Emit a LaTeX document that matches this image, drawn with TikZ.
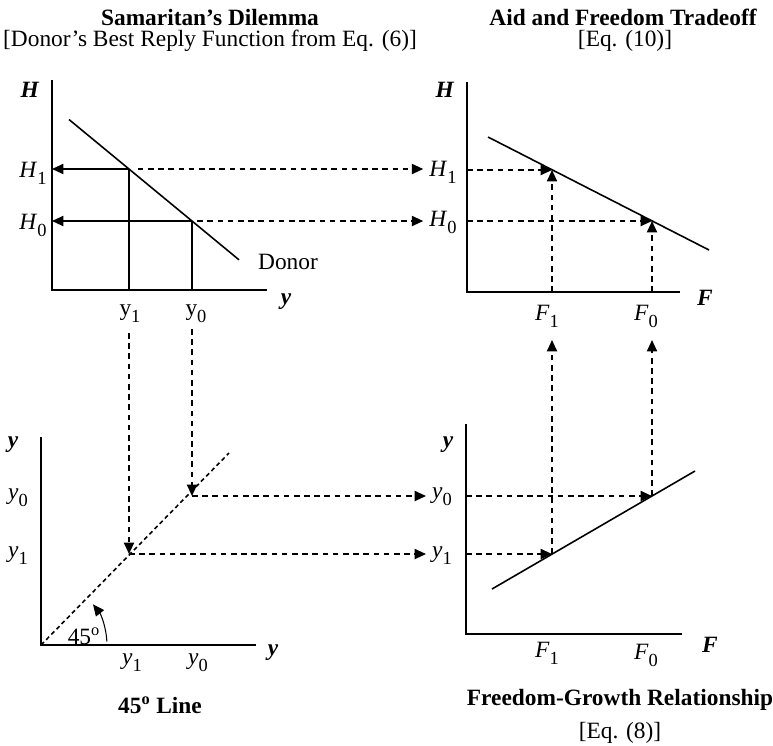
\documentclass[tikz,border=0pt]{standalone}
\usepackage{fontspec}
\setmainfont{Liberation Serif}
\usetikzlibrary{arrows.meta}
\usetikzlibrary{positioning}

\newcommand{\dn}[1]{\raisebox{-0.65ex}{\fontsize{10.5}{12}\selectfont #1}}
\newcommand{\axlab}[1]{\textbf{\textit{#1}}}

\begin{document}
\begin{tikzpicture}[x=0.02cm, y=-0.02cm,
  every node/.style={font=\fontsize{13.3}{15}\selectfont},
  title/.style={font=\fontsize{13.3}{15}\selectfont\bfseries},
  axis/.style={line width=1.6pt},
  curve/.style={line width=0.9pt},
  tip/.style={-{Triangle[length=6.5pt,width=5.8pt]}},
  solidarrow/.style={line width=0.9pt, tip},
  dasharrow/.style={line width=0.9pt, dash pattern=on 3.2pt off 2.6pt, tip},
  dashline/.style={line width=0.9pt, dash pattern=on 2.4pt off 1.8pt}]

\useasboundingbox (0,0) rectangle (773,745);

% Titulos
\node[title] (samTitle) at (210,17) {Samaritan's Dilemma};
\node (samSub) at (210,41) {[Donor's Best Reply Function from Eq. (6)]};
\node[title] (aidTitle) at (623,17) {Aid and Freedom Tradeoff};
\node (aidSub) at (625,41) {[Eq. (10)]};
\node[title] (lineTitle) at (160,705) {45\textsuperscript{o} Line};
\node[title] (fgTitle) at (620,700) {Freedom-Growth Relationship};
\node (fgSub) at (620,733) {[Eq. (8)]};

% Painel 1: Samaritan
\coordinate (tlO) at (52,290);
\coordinate (tlTop) at (52,80);
\coordinate (tlEnd) at (267,290);
\coordinate (tlA) at (129,169);
\coordinate (tlB) at (192,221);
\coordinate (donorS) at (69,119.5);
\coordinate (donorE) at (239,259.8);
\draw[axis] (tlTop) -- (tlO) -- (tlEnd);
\draw[curve] (donorS) -- (donorE);
\node (tlH) at (30,90) {\axlab{H}};
\node (tlH1) at (33,173) {\textit{H}\dn{1}};
\node (tlH0) at (33,225) {\textit{H}\dn{0}};
\node (donor) at (288,262) {Donor};
\node (tly) at (286,302) {\axlab{y}};
\node (tly1) at (130,314) {y\dn{1}};
\node (tly0) at (196,314) {y\dn{0}};
\draw[solidarrow] (tlA) -- (tlA -| tlO);
\draw[solidarrow] (tlB) -- (tlB -| tlO);
\draw[curve] (tlA) -- (tlA |- tlO);
\draw[curve] (tlB) -- (tlB |- tlO);

% Painel 2: Aid and Freedom
\coordinate (trO) at (467,292);
\coordinate (trTop) at (467,82);
\coordinate (trEnd) at (680,292);
\coordinate (trA) at (552,170);
\coordinate (trB) at (652,221);
\coordinate (aidS) at (488,137);
\coordinate (aidE) at (709,250);
\draw[axis] (trTop) -- (trO) -- (trEnd);
\draw[curve] (aidS) -- (aidE);
\node (trH) at (445,90) {\axlab{H}};
\node (trH1) at (443,172) {\textit{H}\dn{1}};
\node (trH0) at (443,222) {\textit{H}\dn{0}};
\node (trF) at (705,298) {\axlab{F}};
\node (trF1) at (547,316) {\textit{F}\dn{1}};
\node (trF0) at (646,316) {\textit{F}\dn{0}};
\draw[dasharrow] (trA -| trO) -- (trA);
\draw[dasharrow] (trB -| trO) -- (trB);
\draw[dasharrow] (trA |- trO) -- (trA);
\draw[dasharrow] (trB |- trO) -- (trB);

% Painel 3: 45 graus
\coordinate (blO) at (41,645);
\coordinate (blTop) at (41,437);
\coordinate (blEnd) at (256,645);
\coordinate (blA) at (129,554);
\coordinate (blB) at (192,496);
\coordinate (diagE) at (229,453);
\coordinate (ang0) at (106.9,641.5);
\draw[axis] (blTop) -- (blO) -- (blEnd);
\draw[dashline] (blO) -- (diagE);
\draw[solidarrow, line width=0.6pt] (ang0) arc[start angle=-3, end angle=-38, radius=66];
\node (ang) at (84,636) {45\textsuperscript{o}};
\node (bly) at (13,445) {\axlab{y}};
\node (bly0) at (18,498) {\textit{y}\dn{0}};
\node (bly1) at (18,556) {\textit{y}\dn{1}};
\node (blyx) at (273,653) {\axlab{y}};
\node (blx1) at (132,663) {\textit{y}\dn{1}};
\node (blx0) at (198,663) {\textit{y}\dn{0}};

% Painel 4: Freedom-Growth
\coordinate (brO) at (466,634);
\coordinate (brTop) at (466,424);
\coordinate (brEnd) at (682,634);
\coordinate (brA) at (552,554);
\coordinate (brB) at (652,496);
\coordinate (fgS) at (492,589);
\coordinate (fgE) at (695,471);
\draw[axis] (brTop) -- (brO) -- (brEnd);
\draw[curve] (fgS) -- (fgE);
\node (bry) at (448,445) {\axlab{y}};
\node (bry0) at (442,497) {\textit{y}\dn{0}};
\node (bry1) at (442,556) {\textit{y}\dn{1}};
\node (brF) at (710,645) {\axlab{F}};
\node (brF1) at (547,653) {\textit{F}\dn{1}};
\node (brF0) at (646,655) {\textit{F}\dn{0}};
\draw[dasharrow] (blA -| brO) -- (brA);
\draw[dasharrow] (blB -| brO) -- (brB);

% Ligacoes entre paineis
\coordinate (y1top) at (129,333);
\coordinate (y0top) at (192,329);
\coordinate (f1tip) at (552,340);
\coordinate (f0tip) at (652,340);
\draw[dasharrow, shorten <=5pt] (tlA) -- (tlA -| trH1.west);
\draw[dasharrow, shorten <=3pt] (tlB) -- (tlB -| trH0.west);
\draw[dasharrow] (y1top) -- (blA);
\draw[dasharrow] (y0top) -- (blB);
\draw[dasharrow] (blA) -- (blA -| bry1.west);
\draw[dasharrow] (blB) -- (blB -| bry0.west);
\draw[dasharrow] (brA) -- (f1tip);
\draw[dasharrow] (brB) -- (f0tip);

\end{tikzpicture}
\end{document}
